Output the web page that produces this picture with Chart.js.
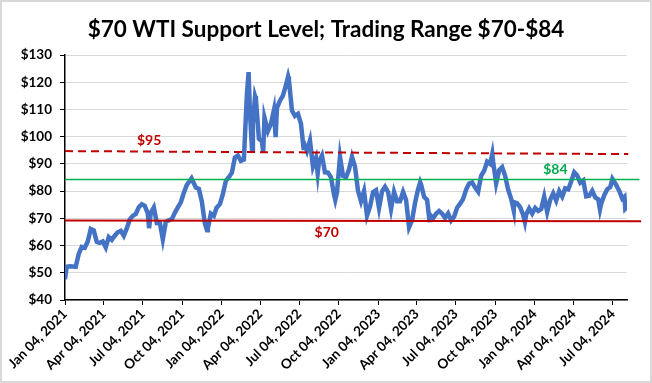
<!DOCTYPE html>
<html lang="en">
<head>
    <meta charset="UTF-8">
    <title>WTI Support Level</title>
    <script src="https://cdn.jsdelivr.net/npm/chart.js"></script>
</head>
<style>
    body { margin: 0; background: #fff; }
    #wtiChart { display: block; }
</style>
<body>
    <div style="width:652px;height:383px;"><canvas id="wtiChart"></canvas></div>

    <script>
        // WTI price (approx. closes)
        const dates = [
            '2021-01-04','2021-01-08','2021-01-15','2021-01-22','2021-01-29','2021-02-05','2021-02-12','2021-02-19','2021-02-26',
            '2021-03-05','2021-03-12','2021-03-19','2021-03-26','2021-04-02','2021-04-09','2021-04-16','2021-04-23','2021-04-30',
            '2021-05-07','2021-05-14','2021-05-21','2021-05-28','2021-06-04','2021-06-11','2021-06-18','2021-06-25','2021-07-02',
            '2021-07-09','2021-07-16','2021-07-19','2021-07-23','2021-07-30','2021-08-06','2021-08-13','2021-08-20','2021-08-27',
            '2021-09-03','2021-09-10','2021-09-17','2021-09-24','2021-10-01','2021-10-08','2021-10-15','2021-10-22','2021-10-26',
            '2021-10-29','2021-11-05','2021-11-12','2021-11-19','2021-11-26','2021-12-01','2021-12-03','2021-12-10','2021-12-17',
            '2021-12-23','2021-12-31',
            '2022-01-07','2022-01-14','2022-01-21','2022-01-28','2022-02-04','2022-02-11','2022-02-18','2022-02-25','2022-03-04',
            '2022-03-08','2022-03-11','2022-03-16','2022-03-18','2022-03-23','2022-03-25','2022-04-01','2022-04-08','2022-04-11',
            '2022-04-14','2022-04-22','2022-04-29','2022-05-06','2022-05-10','2022-05-13','2022-05-20','2022-05-27','2022-06-03',
            '2022-06-08','2022-06-10','2022-06-17','2022-06-24','2022-07-01','2022-07-08','2022-07-14','2022-07-15','2022-07-22',
            '2022-07-29','2022-08-05','2022-08-12','2022-08-16','2022-08-19','2022-08-26','2022-09-02','2022-09-09','2022-09-16',
            '2022-09-23','2022-09-26','2022-09-30','2022-10-07','2022-10-14','2022-10-21','2022-10-28','2022-11-04','2022-11-11',
            '2022-11-18','2022-11-25','2022-12-02','2022-12-09','2022-12-16','2022-12-23','2022-12-30',
            '2023-01-06','2023-01-13','2023-01-20','2023-01-27','2023-02-03','2023-02-10','2023-02-17','2023-02-24','2023-03-03',
            '2023-03-10','2023-03-17','2023-03-24','2023-03-31','2023-04-07','2023-04-12','2023-04-14','2023-04-21','2023-04-28',
            '2023-05-04','2023-05-05','2023-05-12','2023-05-19','2023-05-26','2023-06-02','2023-06-09','2023-06-16','2023-06-23',
            '2023-06-30','2023-07-07','2023-07-14','2023-07-21','2023-07-28','2023-08-04','2023-08-11','2023-08-18','2023-08-25',
            '2023-09-01','2023-09-08','2023-09-15','2023-09-22','2023-09-27','2023-09-29','2023-10-06','2023-10-13','2023-10-20',
            '2023-10-27','2023-11-03','2023-11-10','2023-11-16','2023-11-17','2023-11-24','2023-12-01','2023-12-08','2023-12-12',
            '2023-12-15','2023-12-22','2023-12-29',
            '2024-01-05','2024-01-12','2024-01-19','2024-01-26','2024-02-02','2024-02-09','2024-02-16','2024-02-23','2024-03-01',
            '2024-03-08','2024-03-15','2024-03-22','2024-03-28','2024-04-05','2024-04-12','2024-04-19','2024-04-26','2024-05-03',
            '2024-05-10','2024-05-17','2024-05-24','2024-05-31','2024-06-04','2024-06-07','2024-06-14','2024-06-21','2024-06-28',
            '2024-07-03','2024-07-12','2024-07-19','2024-07-26','2024-07-31','2024-08-02','2024-08-05'
        ];
        const prices = [
            47.6, 52.2, 52.4, 52.3, 52.2, 56.9, 59.5, 59.2, 61.5,
            66.1, 65.6, 61.4, 61.0, 61.5, 59.3, 63.1, 62.1, 63.6,
            64.9, 65.4, 63.6, 66.3, 69.6, 70.9, 71.6, 74.1, 75.2,
            74.6, 71.8, 66.4, 72.1, 74.0, 68.3, 68.4, 62.3, 68.7,
            69.3, 69.7, 72.0, 74.0, 75.9, 79.4, 82.3, 83.8, 84.7,
            83.6, 81.3, 80.8, 76.1, 68.2, 65.6, 66.3, 71.7, 70.9,
            73.8, 75.2,
            78.9, 83.8, 85.1, 86.8, 92.3, 93.1, 91.1, 91.6, 115.7,
            123.7, 109.3, 95.0, 104.7, 114.9, 113.9, 99.3, 98.3, 94.3,
            107.0, 102.1, 104.7, 109.8, 99.8, 110.5, 113.2, 115.1, 118.9,
            122.1, 120.7, 109.6, 107.6, 108.4, 104.8, 95.8, 97.6, 94.7,
            98.6, 89.0, 92.1, 86.5, 90.8, 93.1, 86.9, 86.8, 85.1,
            78.7, 76.7, 79.5, 92.6, 85.6, 85.1, 87.9, 92.6, 89.0,
            80.1, 76.3, 80.0, 71.0, 74.3, 79.6, 80.3,
            73.8, 79.9, 81.6, 79.7, 73.4, 79.7, 76.3, 76.3, 79.7,
            76.7, 66.7, 69.3, 75.7, 80.7, 83.3, 82.5, 77.9, 76.8,
            68.6, 71.3, 70.0, 71.7, 72.7, 71.7, 70.2, 71.8, 69.2,
            70.6, 73.9, 75.4, 77.1, 80.6, 82.8, 83.2, 81.3, 79.8,
            85.6, 87.5, 90.8, 90.0, 93.7, 90.8, 82.8, 87.7, 88.8,
            85.5, 80.5, 77.2, 72.9, 75.9, 75.5, 74.1, 71.2, 68.6,
            71.4, 73.6, 71.7,
            73.8, 72.7, 73.4, 78.0, 72.3, 76.8, 79.2, 76.5, 80.0,
            78.0, 81.0, 80.6, 83.2, 86.9, 85.7, 83.1, 83.9, 78.1,
            78.3, 80.1, 77.7, 77.0, 73.3, 75.5, 78.5, 80.7, 81.5,
            84.5, 82.2, 80.1, 77.2, 77.9, 73.5, 74.0
        ];

        const tickDates = ['2021-01-04','2021-04-04','2021-07-04','2021-10-04','2022-01-04','2022-04-04','2022-07-04','2022-10-04',
            '2023-01-04','2023-04-04','2023-07-04','2023-10-04','2024-01-04','2024-04-04','2024-07-04'];
        const tickLabels = ['Jan 04, 2021','Apr 04, 2021','Jul 04, 2021','Oct 04, 2021','Jan 04, 2022','Apr 04, 2022','Jul 04, 2022','Oct 04, 2022',
            'Jan 04, 2023','Apr 04, 2023','Jul 04, 2023','Oct 04, 2023','Jan 04, 2024','Apr 04, 2024','Jul 04, 2024'];

        // reference levels: [start value, end value]
        const supportLine = [69.2, 68.9];
        const rangeTopLine = [84.3, 84.3];
        const resistanceLine = [94.7, 93.6];

        const start = Date.parse('2021-01-04');
        const day = d => (Date.parse(d) - start) / 864e5;
        const xEnd = 1310;

        const priceData = dates.map((d, i) => ({ x: day(d), y: prices[i] }));
        const refData = (v, x2) => [{ x: 0, y: v[0] }, { x: x2, y: v[1] }];

        const labelFont = 'bold 14px Lato';
        const levelLabels = {
            id: 'levelLabels',
            afterDatasetsDraw(chart) {
                const { ctx, scales: { x, y } } = chart;
                ctx.save();
                ctx.font = labelFont;
                ctx.textAlign = 'center';
                ctx.textBaseline = 'middle';
                ctx.fillStyle = '#c00000';
                ctx.fillText('$95', x.getPixelForValue(196), y.getPixelForValue(98.5));
                ctx.fillText('$70', x.getPixelForValue(610), y.getPixelForValue(64.7));
                ctx.fillStyle = '#00a84f';
                ctx.fillText('$84', x.getPixelForValue(1143), y.getPixelForValue(88));
                ctx.restore();
            },
            beforeDraw(chart) {
                const ctx = chart.ctx;
                ctx.save();
                ctx.strokeStyle = '#d9d9d9';
                ctx.lineWidth = 2;
                ctx.strokeRect(1, 1, chart.width - 2, chart.height - 2);
                ctx.restore();
            }
        };

        const ctx = document.getElementById('wtiChart').getContext('2d');
        const chart = new Chart(ctx, {
            type: 'line',
            data: {
                datasets: [
                    {
                        data: refData(resistanceLine, 1313),
                        borderColor: '#c00000',
                        borderWidth: 2,
                        borderDash: [8, 5],
                        pointRadius: 0,
                        clip: false
                    },
                    {
                        data: refData(rangeTopLine, 1339),
                        borderColor: '#00b050',
                        borderWidth: 1.5,
                        pointRadius: 0,
                        clip: false
                    },
                    {
                        data: refData(supportLine, 1343),
                        borderColor: '#c00000',
                        borderWidth: 2,
                        pointRadius: 0,
                        clip: false
                    },
                    {
                        label: 'WTI',
                        data: priceData,
                        borderColor: '#4472c4',
                        borderWidth: 4.5,
                        pointRadius: 0,
                        tension: 0
                    }
                ]
            },
            options: {
                responsive: true,
                maintainAspectRatio: false,
                animation: false,
                layout: { padding: { left: 0, right: 0, top: 4, bottom: 3 } },
                plugins: {
                    legend: { display: false },
                    tooltip: { enabled: false },
                    title: {
                        display: true,
                        text: '$70 WTI Support Level; Trading Range $70-$84',
                        color: '#000',
                        font: { family: 'Lato', size: 22.5, weight: 'bold' },
                        padding: { top: 12, bottom: 12 }
                    }
                },
                scales: {
                    x: {
                        type: 'linear',
                        min: 0,
                        max: xEnd,
                        afterBuildTicks: scale => {
                            scale.ticks = tickDates.map(d => ({ value: day(d) }));
                        },
                        afterFit: scale => { scale.height = 80; },
                        ticks: {
                            autoSkip: false,
                            minRotation: 45,
                            maxRotation: 45,
                            color: '#000',
                            font: { family: 'Lato', size: 13.5, weight: 'bold' },
                            padding: 1,
                            callback: (v, i) => tickLabels[i]
                        },
                        grid: { drawOnChartArea: false, tickLength: 5, tickColor: '#000' },
                        border: { color: '#000', width: 1.5 }
                    },
                    y: {
                        min: 40,
                        max: 130,
                        afterFit: scale => { scale.width = 65; },
                        ticks: {
                            stepSize: 10,
                            color: '#000',
                            font: { family: 'Lato', size: 13.5, weight: 'bold' },
                            padding: 8,
                            callback: v => '$' + v
                        },
                        grid: { color: '#d9d9d9', tickLength: 5, tickColor: '#000' },
                        border: { color: '#000', width: 1.5 }
                    },
                    // empty right margin so the title stays centred on the canvas
                    spacer: {
                        position: 'right',
                        afterFit: scale => { scale.width = 25; },
                        ticks: { display: false },
                        grid: { display: false },
                        border: { display: false }
                    }
                }
            },
            plugins: [levelLabels]
        });
    </script>
</body>
</html>
